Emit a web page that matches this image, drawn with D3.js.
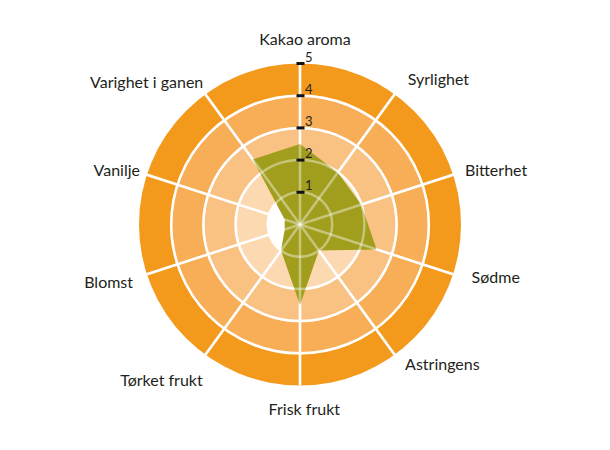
<!DOCTYPE html>
<html>
<head>
<meta charset="utf-8">
<script src="https://cdn.jsdelivr.net/npm/d3@7"></script>
<style>
  html, body { margin: 0; padding: 0; background: #fff; }
  svg { display: block; }
  text { font-family: Lato, "Open Sans", sans-serif; fill: #231f20; }
</style>
</head>
<body>
<svg id="chart" width="610" height="450"></svg>
<script>
// Chart data
const axes = ["Kakao aroma", "Syrlighet", "Bitterhet", "Sødme", "Astringens",
              "Frisk frukt", "Tørket frukt", "Blomst", "Vanilje", "Varighet i ganen"];
const values = [2.5, 2.0, 2.0, 2.5, 1.0, 2.5, 1.0, 0.5, 0.5, 2.5];
const levels = [1, 2, 3, 4, 5];
const tickLabels = ["1", "2", "3", "4", "5"];

// Ring fill per level, inner to outer
const ringColors = ["#ffffff", "#fdd9b1", "#f9c182", "#f7ae56", "#f39a1c"];
// Small hand nudges so labels sit where the original put them
const labelNudge = [[5, -12.5], [6.6, -5.3], [1.4, 0], [8, 0], [4, 1.3],
                    [4.3, 13.5], [3.8, 17.3], [-3.4, 5.3], [3.6, 0], [4.4, -2]];

const cx = 300, cy = 224.5;
const svg = d3.select("#chart");
const g = svg.append("g").attr("transform", `translate(${cx},${cy})`);

const r = d3.scaleLinear().domain([0, 5]).range([0, 161]);
const angle = d3.scaleLinear().domain([0, axes.length]).range([0, 2 * Math.PI]);

// Rings, outer first so inner ones paint over
g.selectAll("circle.ring")
  .data(levels.slice().reverse())
  .join("circle")
  .attr("class", "ring")
  .attr("r", d => r(d))
  .attr("fill", d => ringColors[d - 1]);

function drawGrid(layer, opacity) {
  layer.selectAll("circle.grid")
    .data(levels.slice(0, 4))
    .join("circle")
    .attr("class", "grid")
    .attr("r", d => r(d))
    .attr("fill", "none")
    .attr("stroke", "#fff")
    .attr("stroke-opacity", opacity)
    .attr("stroke-width", 2.5);
  layer.selectAll("line.spoke")
    .data(axes)
    .join("line")
    .attr("class", "spoke")
    .attr("x1", 0).attr("y1", 0)
    .attr("x2", (d, i) => r(5) * Math.sin(angle(i)))
    .attr("y2", (d, i) => -r(5) * Math.cos(angle(i)))
    .attr("stroke", "#fff")
    .attr("stroke-opacity", opacity)
    .attr("stroke-width", 2.5);
}
drawGrid(g.append("g"), 1);

// Value area
const radial = d3.lineRadial()
  .angle((d, i) => angle(i))
  .radius(d => r(d))
  .curve(d3.curveLinearClosed);
g.append("path")
  .datum(values)
  .attr("d", radial)
  .attr("fill", "#a19e1e");

// grid again on top, faint, so it shows through the area
drawGrid(g.append("g"), 0.4);

// Level ticks on the top axis
const ticks = g.append("g");
ticks.selectAll("rect")
  .data(levels)
  .join("rect")
  .attr("x", -3.5)
  .attr("y", d => -r(d) - 1.5)
  .attr("width", 8)
  .attr("height", 3)
  .attr("fill", "#111");
ticks.selectAll("text")
  .data(levels)
  .join("text")
  .attr("x", 5)
  .attr("y", d => -r(d) - 2)
  .attr("font-size", 13)
  .text((d, i) => tickLabels[i]);

// Axis labels
const labelR = 172;
g.selectAll("text.axis-label")
  .data(axes)
  .join("text")
  .attr("class", "axis-label")
  .attr("x", (d, i) => labelR * Math.sin(angle(i)) + labelNudge[i][0])
  .attr("y", (d, i) => -labelR * Math.cos(angle(i)) + 5 + labelNudge[i][1])
  .attr("text-anchor", (d, i) => {
    const s = Math.sin(angle(i));
    return Math.abs(s) < 0.1 ? "middle" : (s > 0 ? "start" : "end");
  })
  .attr("font-size", 16)
  .text(d => d);
</script>
</body>
</html>
